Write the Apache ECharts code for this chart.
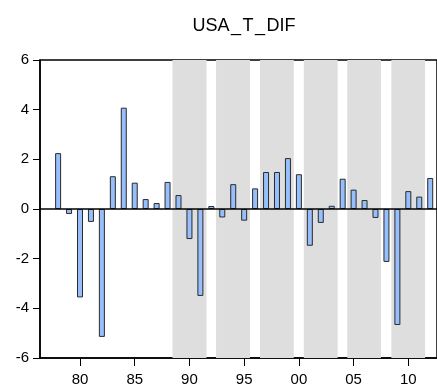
<!DOCTYPE html>
<html>
<head>
<meta charset="utf-8">
<script src="https://cdn.jsdelivr.net/npm/echarts@6/dist/echarts.min.js"></script>
<style>html,body{margin:0;padding:0;background:#fff}#c{width:437px;height:390px}</style>
</head>
<body>
<div id="c"></div>
<script>
var years = [1978,1979,1980,1981,1982,1983,1984,1985,1986,1987,1988,1989,1990,1991,1992,1993,1994,1995,1996,1997,1998,1999,2000,2001,2002,2003,2004,2005,2006,2007,2008,2009,2010,2011,2012];
var values = [2.25,-0.2,-3.56,-0.52,-5.15,1.32,4.08,1.06,0.40,0.24,1.09,0.56,-1.21,-3.50,0.12,-0.34,1.0,-0.47,0.83,1.49,1.49,2.05,1.40,-1.48,-0.56,0.13,1.22,0.78,0.36,-0.36,-2.13,-4.67,0.72,0.50,1.25];
var bandStarts = [1988.45,1992.43,1996.45,2000.45,2004.42,2008.45];
var bandEnds = [1991.56,1995.53,1999.53,2003.54,2007.50,2011.53];
var xTicks = [1980,1985,1990,1995,2000,2005,2010];
var yTicks = [-6,-4,-2,0,2,4,6];

var barData = years.map(function(y,i){return [y, values[i]];});
var bands = bandStarts.map(function(s,i){return [{xAxis:s},{xAxis:bandEnds[i]}];});

var chart = echarts.init(document.getElementById('c'), null, {renderer:'canvas'});
chart.setOption({
  animation:false,
  backgroundColor:'#fff',
  textStyle:{fontFamily:'Liberation Sans, Arial, sans-serif'},
  title:{
    text:'{a|USA}{u|_}{a|T}{u|_}{a|DIF}',
    left:239, top:12, textAlign:'center',
    textStyle:{
      fontWeight:'normal',
      rich:{
        a:{fontSize:18,fontWeight:'normal',color:'#000',fontFamily:'Liberation Sans, Arial, sans-serif'},
        u:{fontSize:18,fontWeight:'normal',color:'#000',padding:[0,1.5],fontFamily:'Liberation Sans, Arial, sans-serif'}
      }
    }
  },
  grid:{left:40,right:0,top:60,bottom:32,containLabel:false,outerBoundsMode:'none',
        show:true,borderColor:'#000',borderWidth:1.5,backgroundColor:'transparent'},
  xAxis:{
    type:'value', min:1976.345, max:2012.62,
    axisLine:{show:true,onZero:false,lineStyle:{color:'#000',width:1.5}},
    axisTick:{show:true,inside:false,length:8,customValues:xTicks,lineStyle:{color:'#000',width:1}},
    axisLabel:{show:true,customValues:xTicks,margin:14,fontSize:15,color:'#000',
      formatter:function(v){return String(v).slice(2);}},
    splitLine:{show:false}
  },
  yAxis:{
    type:'value', min:-6, max:6, interval:2,
    axisLine:{show:true,lineStyle:{color:'#000',width:1.5}},
    axisTick:{show:true,inside:false,length:7,lineStyle:{color:'#000',width:1}},
    axisLabel:{show:true,margin:11,fontSize:15,color:'#000',
      customValues:yTicks,
      formatter:function(v){return String(v);}},
    splitLine:{show:false}
  },
  series:[
    {
      type:'line', data:[], z:1, silent:true,
      markArea:{silent:true,itemStyle:{color:'#dedede'},data:bands}
    },
    {
      type:'bar', data:barData, barWidth:6, z:3,
      itemStyle:{color:'#97bffc',borderColor:'#2a2a2a',borderWidth:1},
      markLine:{silent:true,symbol:['none','none'],label:{show:false},
        lineStyle:{color:'#000',width:1.5,type:'solid'},
        data:[{yAxis:0}]}
    }
  ]
});
</script>
</body>
</html>
